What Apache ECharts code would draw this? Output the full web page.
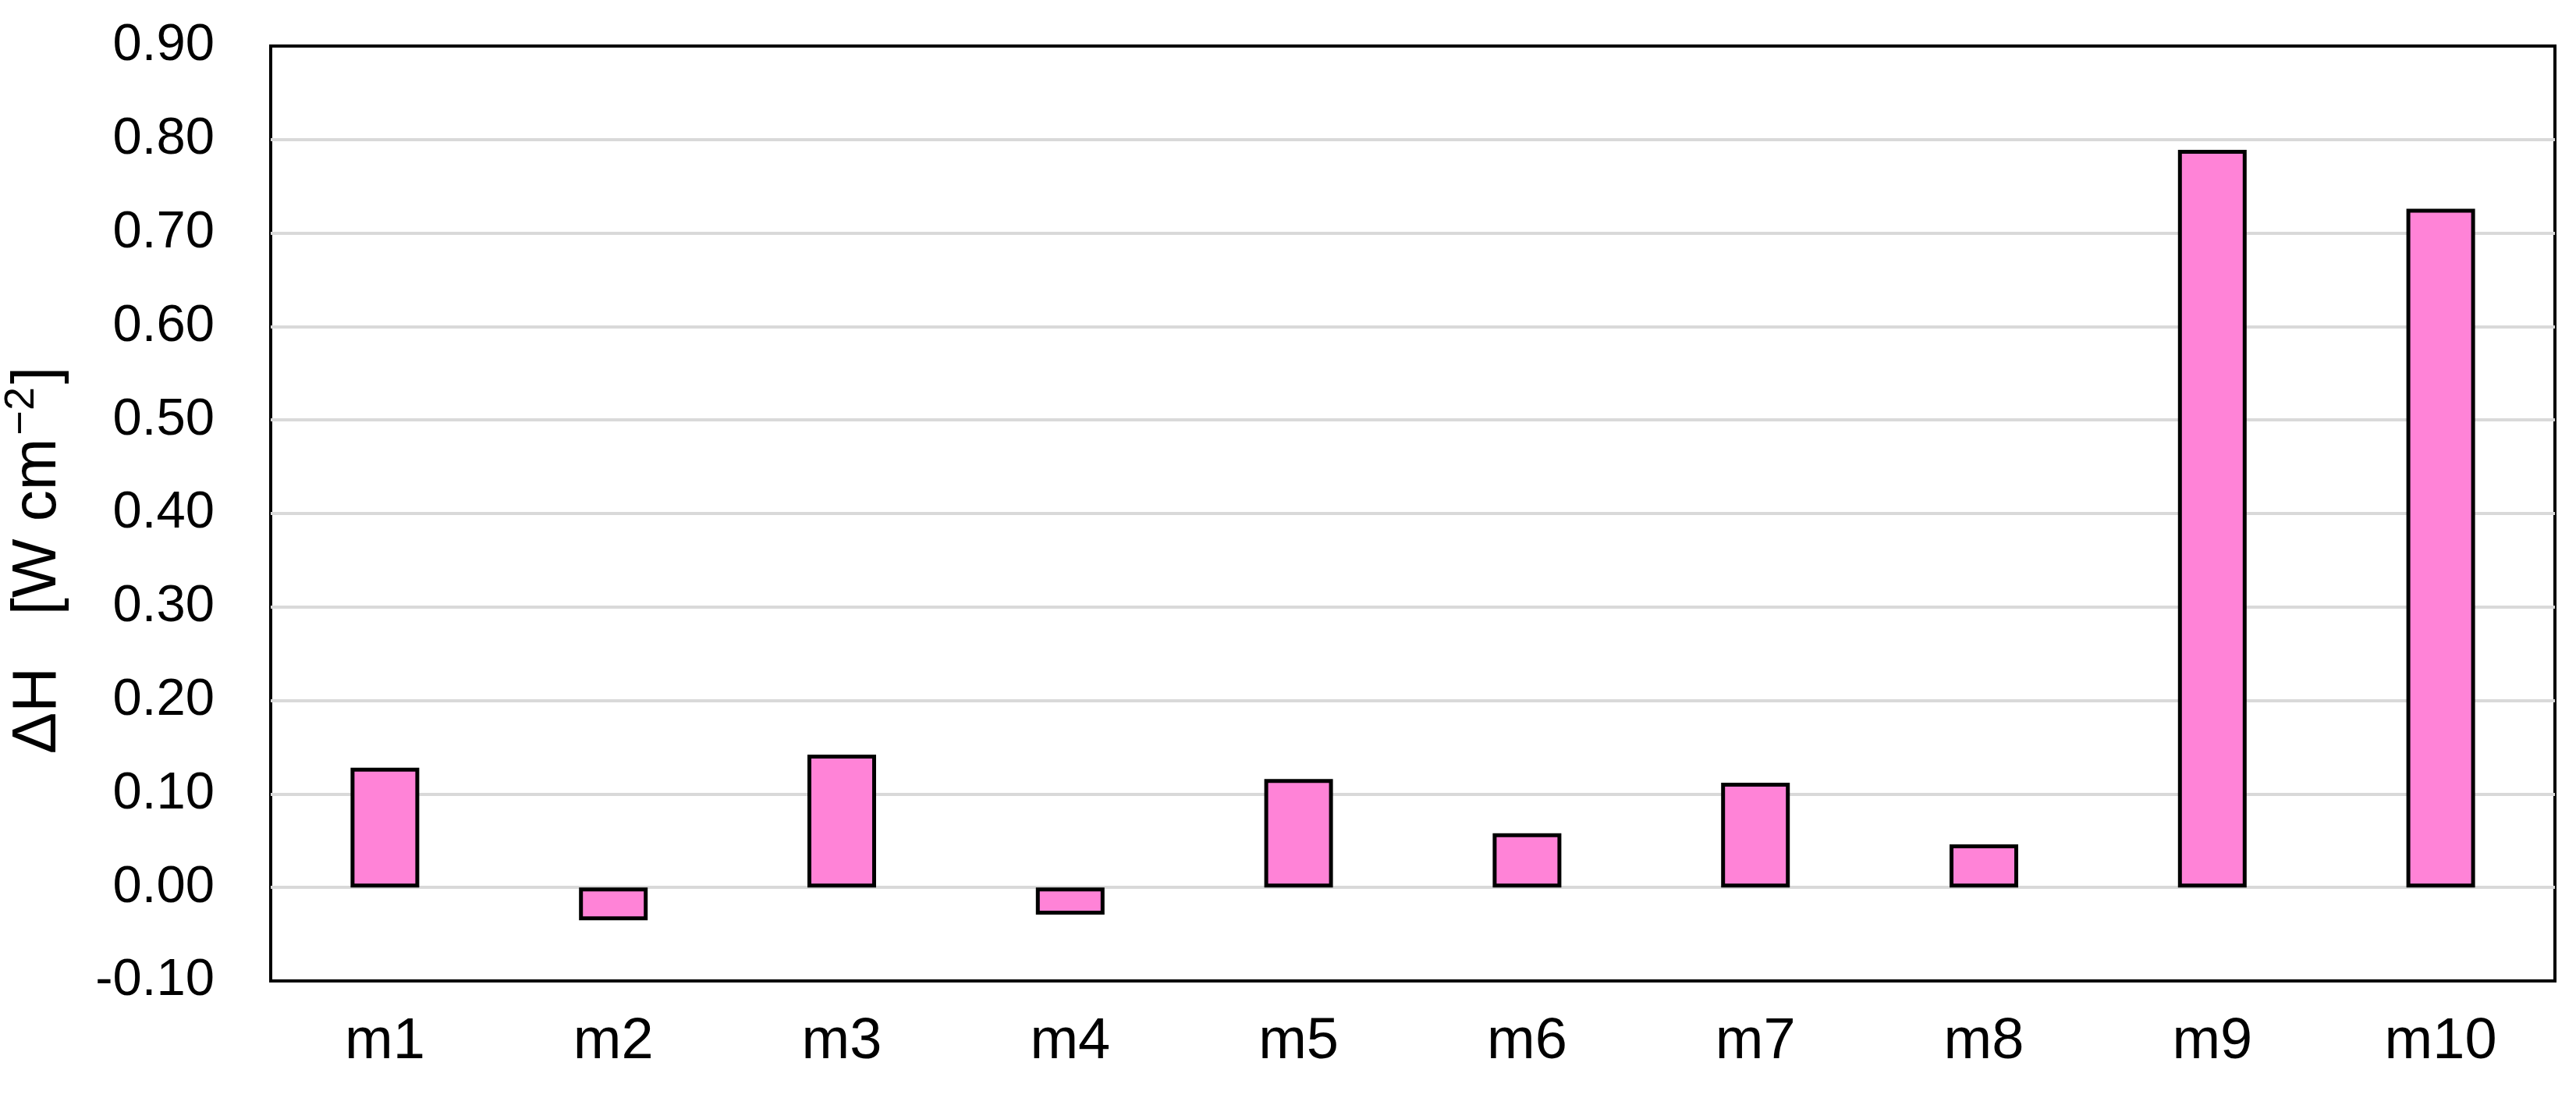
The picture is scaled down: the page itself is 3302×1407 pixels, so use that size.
<!DOCTYPE html>
<html>
<head>
<meta charset="utf-8">
<script src="https://cdn.jsdelivr.net/npm/echarts@6/dist/echarts.min.js"></script>
<style>
  html, body { margin: 0; padding: 0; background: #fff; }
  #barChart { width: 3302px; height: 1407px; }
</style>
</head>
<body>
<div id="barChart"></div>
<script>
// 各样本 ΔH 值
var categories = ['m1', 'm2', 'm3', 'm4', 'm5', 'm6', 'm7', 'm8', 'm9', 'm10'];
var deltaH = [0.128, -0.035, 0.142, -0.029, 0.116, 0.058, 0.112, 0.046, 0.789, 0.726];
var yMin = -0.1;
var yMax = 0.9;
var yStep = 0.1;

var chartDom = document.getElementById('barChart');
var myChart = echarts.init(chartDom);
var font = 'Liberation Sans, Arial, sans-serif';

var option = {
  animation: false,
  grid: {
    left: 347,
    right: 27,
    top: 59,
    bottom: 150,
    outerBoundsMode: 'none',
    show: true,
    borderColor: '#000',
    borderWidth: 4
  },
  xAxis: {
    type: 'category',
    data: categories,
    axisLine: { show: false },
    axisTick: { show: false },
    axisLabel: {
      margin: 42,
      fontSize: 74,
      color: '#000',
      fontFamily: font
    }
  },
  yAxis: {
    type: 'value',
    min: yMin,
    max: yMax,
    interval: yStep,
    name: '{a|ΔH   [W cm}{sup|−2}{a|]}',
    nameLocation: 'middle',
    nameGap: 250,
    nameTextStyle: {
      // 标题整体略向下偏
      padding: [0, 120, 0, 0],
      rich: {
        a: { fontSize: 80, color: '#000', fontFamily: font, lineHeight: 96 },
        sup: { fontSize: 54, color: '#000', fontFamily: font, lineHeight: 60, verticalAlign: 'top', padding: [0, 4, 0, 4] }
      }
    },
    axisLine: { show: false },
    axisTick: { show: false },
    axisLabel: {
      margin: 72,
      fontSize: 67,
      color: '#000',
      fontFamily: font,
      formatter: function (value) {
        return value.toFixed(2);
      }
    },
    splitLine: {
      show: true,
      showMinLine: false,
      showMaxLine: false,
      lineStyle: { color: '#d9d9d9', width: 4 }
    }
  },
  series: [
    {
      type: 'bar',
      data: deltaH,
      barWidth: 88,
      itemStyle: {
        color: '#ff83d7',
        borderColor: '#000',
        borderWidth: 5
      }
    }
  ]
};
myChart.setOption(option);
</script>
</body>
</html>
